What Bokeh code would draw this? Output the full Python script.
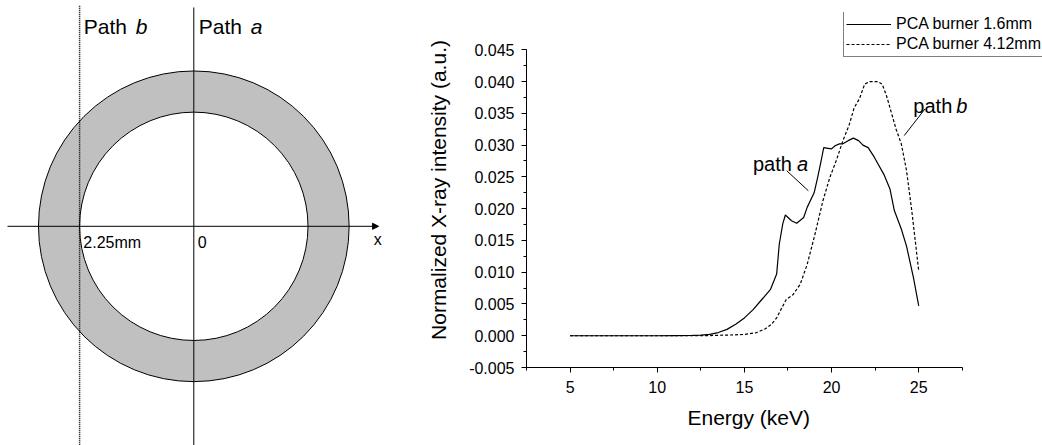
from bokeh.plotting import figure
from bokeh.layouts import row
from bokeh.models import (Range1d, Arrow, NormalHead, Label, FixedTicker, Title,
                          NumeralTickFormatter, Legend, LegendItem)
from bokeh.embed import file_html
from bokeh.resources import INLINE

FONT = "Liberation Sans"

# ---------------- Left diagram data (mm) ----------------
inner_radius_mm = 2.25
outer_radius_mm = 3.06
path_a_x = 0.0
path_b_x = -2.25
path_x = [path_a_x, path_b_x]
path_top = [4.31, 4.35]
path_bottom = [-4.5, -4.5]
x_axis_extent = [-3.67, 3.64]
diagram_labels = ["2.25mm", "0", "x"]

# ---------------- Right chart data ----------------
energy_a = [5, 6, 7, 8, 9, 10, 11, 12, 12.5, 13, 13.5, 14, 14.5, 15, 15.5, 16, 16.5,
            16.85, 17.0, 17.2, 17.35, 17.7, 18.0, 18.4, 18.6, 19.0, 19.2, 19.4, 19.55,
            19.8, 20.0, 20.2, 20.45, 20.65, 20.95, 21.25, 21.55, 21.8, 22.1, 22.45,
            23.0, 23.35, 23.6, 24.0, 24.3, 24.7, 25.0]
intensity_a = [0, 0, 0, 0, 0, 0, 0.00002, 0.00005, 0.0001, 0.0002, 0.0005, 0.0010,
               0.0018, 0.0028, 0.0041, 0.0057, 0.0073,
               0.0097, 0.0144, 0.0176, 0.0190, 0.0181, 0.0177, 0.0186, 0.0202, 0.0225,
               0.0249, 0.0275, 0.0296,
               0.0295, 0.0294, 0.0299, 0.0302, 0.0302, 0.0307, 0.0311, 0.0307, 0.0300,
               0.0296, 0.0281,
               0.0254, 0.0231, 0.0197, 0.0168, 0.0141, 0.0091, 0.0047]

energy_b = [5, 6, 7, 8, 9, 10, 11, 12, 13, 14, 15, 15.7, 16.2, 16.55, 16.85, 17.15,
            17.4, 17.8, 18.2, 18.6, 19.05, 19.5, 19.9, 20.3, 20.65, 21.0, 21.3, 21.6,
            21.9, 22.2, 22.65, 22.9, 23.15, 23.4, 23.7, 24.0, 24.3, 24.6, 25.0]
intensity_b = [0, 0, 0, 0, 0, 0, 0, 0, 0.00003, 0.0001, 0.0002, 0.0005, 0.0011,
               0.0018, 0.0028, 0.0044,
               0.0057, 0.0065, 0.0081, 0.0112, 0.0160, 0.0212, 0.0249, 0.0278, 0.0307,
               0.0331, 0.0359, 0.0373,
               0.0396, 0.0400, 0.0400, 0.0396, 0.0378, 0.0354, 0.0325, 0.0302, 0.0260,
               0.0197, 0.0102]

x_ticks = [5, 10, 15, 20, 25]
x_minor_ticks = [2.5, 7.5, 12.5, 17.5, 22.5, 27.5]
y_ticks = [-0.005, 0.0, 0.005, 0.01, 0.015, 0.02, 0.025, 0.03, 0.035, 0.04, 0.045]
y_minor_ticks = [-0.0025, 0.0025, 0.0075, 0.0125, 0.0175, 0.0225, 0.0275, 0.0325,
                 0.0375, 0.0425]
x_axis_bounds = (2.5, 27.5)
y_axis_bounds = (-0.005, 0.045)
x_title = "Energy (keV)"
y_title = "Normalized X-ray intensity (a.u.)"
legend_labels = ["PCA burner 1.6mm", "PCA burner 4.12mm"]

# annotation positions (keV, a.u.)
note_a = (15.49, 0.0270)
note_b = (24.69, 0.0362)
leader_x0 = [17.43, 25.36]
leader_y0 = [0.02596, 0.0357]
leader_x1 = [18.67, 24.17]
leader_y1 = [0.02281, 0.0315]

# ================= Left figure =================
p1 = figure(width=420, height=445, x_range=Range1d(-3.808, 4.466),
            y_range=Range1d(-4.318, 4.448), output_backend="svg",
            toolbar_location=None, min_border=0,
            x_axis_location=None, y_axis_location=None)
p1.frame_align = False
p1.grid.visible = False
p1.outline_line_color = None

p1.annulus(x=[0], y=[0], inner_radius=inner_radius_mm, outer_radius=outer_radius_mm,
           fill_color="#c0c0c0", line_color="black", line_width=1)
p1.segment(x0=path_x[:1], y0=path_bottom[:1], x1=path_x[:1], y1=path_top[:1],
           line_color="black", line_width=1)
p1.segment(x0=path_x[1:], y0=path_bottom[1:], x1=path_x[1:], y1=path_top[1:],
           line_color="black", line_width=1.5, line_dash="1 1")
p1.add_layout(Arrow(x_start=x_axis_extent[0], y_start=0, x_end=x_axis_extent[1], y_end=0,
                    line_color="black", line_width=1,
                    end=NormalHead(size=6, fill_color="black", line_color="black")))


def lab(fig, x, y, text, size, italic=False, xoff=0):
    fig.add_layout(Label(x=x, y=y, text=text, x_offset=xoff, text_font=FONT,
                         text_font_size=size, text_color="black",
                         text_baseline="alphabetic",
                         text_font_style="italic" if italic else "normal"))


lab(p1, path_b_x + 0.083, 3.936, "Path", "21px")
lab(p1, path_b_x + 0.083, 3.936, "b", "21px", italic=True, xoff=52)
lab(p1, path_a_x + 0.098, 3.936, "Path", "21px")
lab(p1, path_a_x + 0.098, 3.936, "a", "21px", italic=True, xoff=52)
lab(p1, path_b_x + 0.073, -0.313, diagram_labels[0], "16px")
lab(p1, path_a_x + 0.079, -0.313, diagram_labels[1], "16px")
lab(p1, 3.546, -0.266, diagram_labels[2], "16px")

# ================= Right figure =================
p2 = figure(width=622, height=445, x_range=Range1d(2.5, 32.1),
            y_range=Range1d(-0.005, 0.05087), output_backend="svg",
            toolbar_location=None, min_border_left=106, min_border_right=0,
            min_border_top=12, min_border_bottom=78)
p2.frame_align = False
p2.grid.visible = False
p2.outline_line_color = None

ra = p2.line(energy_a, intensity_a, line_color="black", line_width=1.2)
rb = p2.line(energy_b, intensity_b, line_color="black", line_width=1.2, line_dash="3 2")
p2.segment(x0=leader_x0, y0=leader_y0, x1=leader_x1, y1=leader_y1,
           line_color="black", line_width=1)

p2.xaxis.ticker = FixedTicker(ticks=x_ticks, minor_ticks=x_minor_ticks)
p2.yaxis.ticker = FixedTicker(ticks=y_ticks, minor_ticks=y_minor_ticks)
p2.xaxis.bounds = x_axis_bounds
p2.yaxis.bounds = y_axis_bounds
p2.yaxis.formatter = NumeralTickFormatter(format="0.000")
p2.yaxis.axis_label = y_title

for ax in (p2.xaxis, p2.yaxis):
    ax.axis_line_color = "black"
    ax.axis_line_width = 1
    ax.major_tick_line_color = "black"
    ax.minor_tick_line_color = "black"
    ax.major_tick_in = 0
    ax.major_tick_out = 5
    ax.minor_tick_in = 0
    ax.minor_tick_out = 3
    ax.major_label_text_font = FONT
    ax.major_label_text_font_size = "16px"
    ax.major_label_text_color = "black"
    ax.axis_label_text_font = FONT
    ax.axis_label_text_font_size = "21px"
    ax.axis_label_text_font_style = "normal"
    ax.axis_label_text_color = "black"
p2.xaxis.major_label_standoff = 8
p2.yaxis.major_label_standoff = 7
p2.yaxis.axis_label_standoff = 16

# x-axis title, placed under the axis extent (2.5 - 27.5 keV)
p2.add_layout(Title(text=x_title, align="left", offset=161, text_font=FONT,
                    text_font_size="21px", text_font_style="normal",
                    text_color="black", standoff=16), "below")

lab(p2, note_a[0], note_a[1], "path", "20px")
lab(p2, note_a[0], note_a[1], "a", "20px", italic=True, xoff=44)
lab(p2, note_b[0], note_b[1], "path", "20px")
lab(p2, note_b[0], note_b[1], "b", "20px", italic=True, xoff=43)

legend = Legend(items=[LegendItem(label=legend_labels[0], renderers=[ra]),
                       LegendItem(label=legend_labels[1], renderers=[rb])],
                location=(317, 310), border_line_color="black", border_line_width=1,
                background_fill_color="white", background_fill_alpha=1,
                label_text_font=FONT, label_text_font_size="16px",
                label_text_color="black", glyph_width=45, glyph_height=20,
                label_height=20, padding=2, spacing=0, margin=0, label_standoff=5)
p2.add_layout(legend)

layout = row(p1, p2)
open("out.html", "w").write(file_html(layout, INLINE))
